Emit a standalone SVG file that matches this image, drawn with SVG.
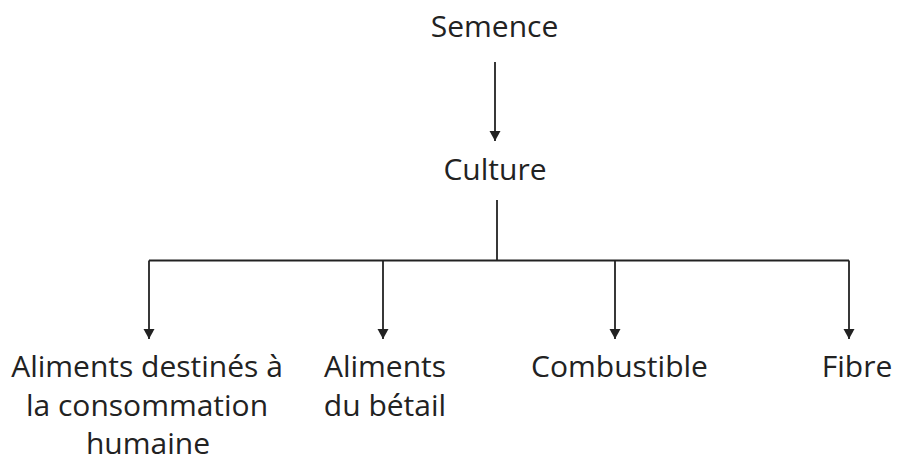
<svg xmlns="http://www.w3.org/2000/svg" width="897" height="461" viewBox="0 0 897 461">
<style>
text{font-family:"Open Sans","Noto Sans",sans-serif;font-size:30px;fill:#222;text-anchor:middle}
.c{stroke:#222;stroke-width:1.8;fill:none}
</style>
<defs>
<marker id="ah" markerUnits="userSpaceOnUse" markerWidth="12" markerHeight="12" viewBox="0 0 12 12" refX="10" refY="6" orient="auto">
<path d="M0,0.5 L10,6 L0,11.5 Z" fill="#222"/>
</marker>
</defs>
<rect width="897" height="461" fill="#fff"/>
<g id="connectors">
<line class="c" x1="495" y1="62" x2="495" y2="141" marker-end="url(#ah)"/>
<polyline class="c" points="497,200 497,260.5"/>
<line class="c" x1="149" y1="260.5" x2="849" y2="260.5"/>
<line class="c" x1="149" y1="260.5" x2="149" y2="339" marker-end="url(#ah)"/>
<line class="c" x1="383" y1="260.5" x2="383" y2="339" marker-end="url(#ah)"/>
<line class="c" x1="615" y1="260.5" x2="615" y2="339" marker-end="url(#ah)"/>
<line class="c" x1="849" y1="260.5" x2="849" y2="339" marker-end="url(#ah)"/>
</g>
<g id="semence"><text x="494.5" y="37">Semence</text></g>
<g id="culture"><text x="495" y="180">Culture</text></g>
<g id="aliments-humains"><text x="147" y="377">Aliments destinés à</text><text x="147" y="416">la consommation</text><text x="148" y="454">humaine</text></g>
<g id="aliments-betail"><text x="385" y="377">Aliments</text><text x="385" y="416">du bétail</text></g>
<g id="combustible"><text x="619.5" y="377">Combustible</text></g>
<g id="fibre"><text x="857" y="377">Fibre</text></g>
</svg>
